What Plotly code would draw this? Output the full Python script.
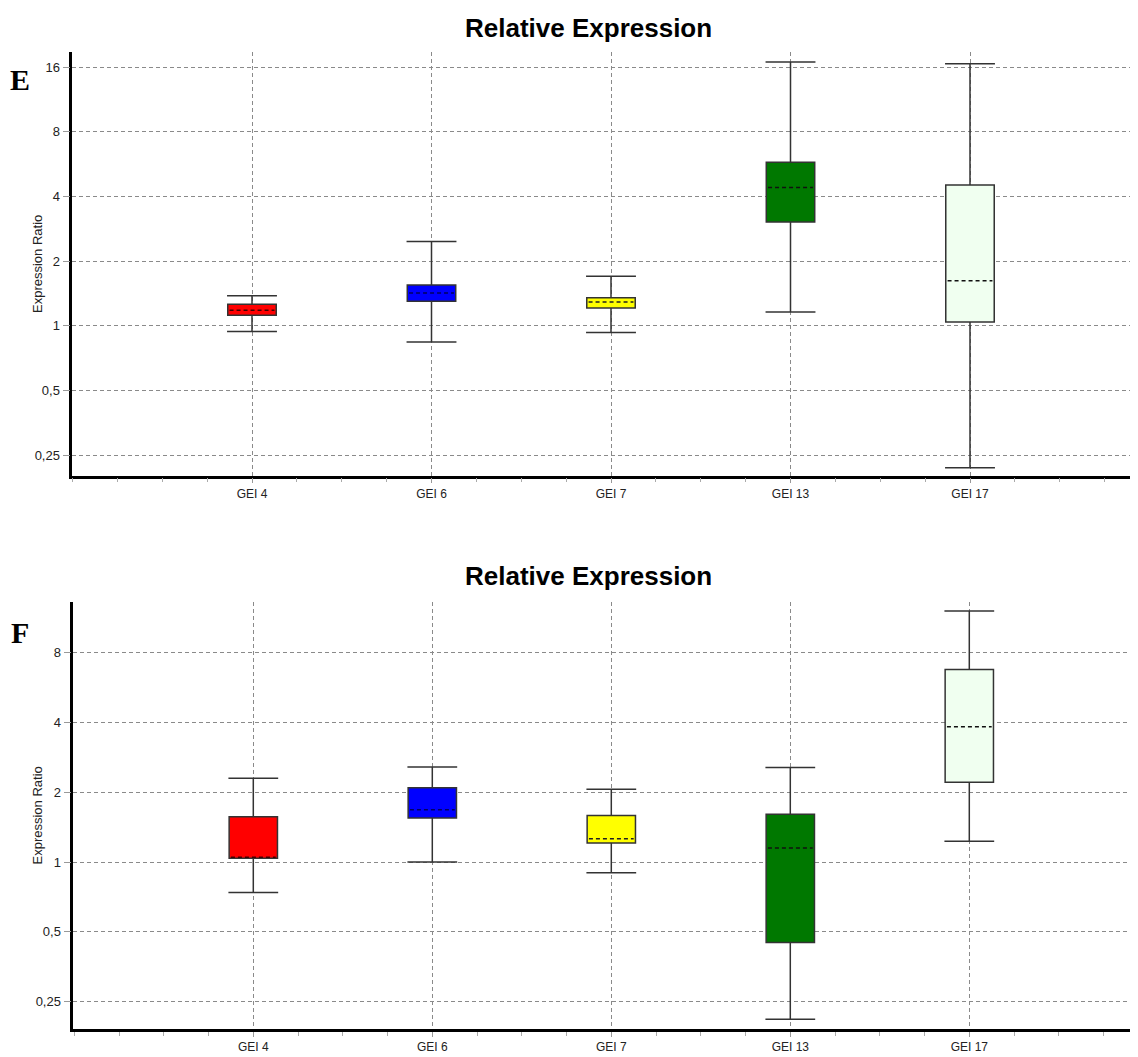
import math
import plotly.graph_objects as go

# ---------------- data ----------------
categories = ["GEI 4", "GEI 6", "GEI 7", "GEI 13", "GEI 17"]
box_colors = ["#FF0000", "#0000FF", "#FFFF00", "#007800", "#F0FFF0"]
median_colors = ["#400000", "#000060", "#202020", "#101010", "#101010"]

# Panel E
e_lower = [0.94, 0.84, 0.93, 1.16, 0.218]
e_q1 = [1.12, 1.30, 1.21, 3.04, 1.04]
e_median = [1.18, 1.42, 1.29, 4.41, 1.62]
e_q3 = [1.26, 1.55, 1.35, 5.78, 4.52]
e_upper = [1.38, 2.47, 1.70, 16.9, 16.6]

# Panel F
f_lower = [0.74, 1.00, 0.90, 0.21, 1.23]
f_q1 = [1.04, 1.55, 1.21, 0.45, 2.21]
f_median = [1.05, 1.68, 1.26, 1.15, 3.83]
f_q3 = [1.57, 2.09, 1.59, 1.61, 6.77]
f_upper = [2.30, 2.57, 2.06, 2.56, 12.1]

e_ticks = [0.25, 0.5, 1, 2, 4, 8, 16]
e_ticktext = ["0,25", "0,5", "1", "2", "4", "8", "16"]
f_ticks = [0.25, 0.5, 1, 2, 4, 8]
f_ticktext = ["0,25", "0,5", "1", "2", "4", "8"]

# ---------------- style ----------------
OFF = 8  # default page body margin
W, H = 1130, 1049  # figure size so that it ends at the window edge
BOX_W = 0.27
CAP_HALF = 0.139
EDGE = "#333333"
GRID = "#8a8a8a"
FONT = "Liberation Sans, Arial, sans-serif"

fig = go.Figure()


def add_panel(xa, ya, lower, q1, med, q3, upper):
    pos = list(range(len(categories)))
    fig.add_trace(go.Bar(
        x=pos, y=[b - a for a, b in zip(q1, q3)], base=q1, width=BOX_W,
        marker=dict(color=box_colors, line=dict(color=EDGE, width=1.5)),
        xaxis=xa, yaxis=ya, showlegend=False, hoverinfo="skip"))
    wx, wy = [], []
    for i in pos:
        wx += [i, i, None, i, i, None]
        wy += [q3[i], upper[i], None, q1[i], lower[i], None]
    for i in pos:
        wx += [i - CAP_HALF, i + CAP_HALF, None, i - CAP_HALF, i + CAP_HALF, None]
        wy += [upper[i], upper[i], None, lower[i], lower[i], None]
    fig.add_trace(go.Scatter(x=wx, y=wy, mode="lines",
                             line=dict(color=EDGE, width=1.5),
                             xaxis=xa, yaxis=ya, showlegend=False, hoverinfo="skip"))
    for i in pos:
        fig.add_trace(go.Scatter(
            x=[i - BOX_W / 2 + 0.01, i + BOX_W / 2 - 0.01], y=[med[i], med[i]],
            mode="lines", line=dict(color=median_colors[i], width=1.5, dash="4px,3px"),
            xaxis=xa, yaxis=ya, showlegend=False, hoverinfo="skip"))


add_panel("x", "y", e_lower, e_q1, e_median, e_q3, e_upper)
add_panel("x2", "y2", f_lower, f_q1, f_median, f_q3, f_upper)


def fx(p):
    return (p - OFF) / W


def fy(p):
    return 1 - (p - OFF) / H


def xaxis_cfg(left_px, cat0_px, spacing):
    right_px = 1138
    return dict(
        domain=[fx(left_px), fx(right_px)],
        range=[(left_px - cat0_px) / spacing, (right_px - cat0_px) / spacing],
        type="linear",
        tickmode="array", tickvals=list(range(len(categories))), ticktext=categories,
        showgrid=True, gridcolor=GRID, griddash="4px,3px", gridwidth=1,
        zeroline=False, showline=True, linecolor="black", linewidth=2.5,
        ticks="outside", ticklen=5, tickcolor="#999999", tickwidth=1,
        minor=dict(tick0=0, dtick=0.25, ticks="outside", ticklen=4,
                   tickcolor="#aaaaaa", showgrid=False),
        tickfont=dict(family=FONT, size=12, color="#222222"), fixedrange=True)


def yaxis_cfg(top_px, bottom_px, lo_log2, hi_log2, tv, tt, anchor):
    return dict(
        domain=[fy(bottom_px), fy(top_px)], type="log",
        range=[lo_log2 * math.log10(2), hi_log2 * math.log10(2)],
        tickmode="array", tickvals=tv, ticktext=tt,
        showgrid=True, gridcolor=GRID, griddash="4px,3px", gridwidth=1,
        zeroline=False, showline=True, linecolor="black", linewidth=2.5,
        ticks="outside", ticklen=7, tickcolor="#999999", tickwidth=1,
        tickfont=dict(family=FONT, size=13, color="#222222"),
        anchor=anchor, fixedrange=True)


fig.update_layout(
    width=W, height=H, autosize=False,
    margin=dict(l=0, r=0, t=0, b=0),
    paper_bgcolor="white", plot_bgcolor="white",
    barmode="overlay",
    xaxis=dict(**xaxis_cfg(72.3, 252.0, 179.5), anchor="y"),
    yaxis=yaxis_cfg(51.7, 475.7, -2.32, 4.24, e_ticks, e_ticktext, "x"),
    xaxis2=dict(**xaxis_cfg(73.3, 253.3, 179.0), anchor="y2"),
    yaxis2=yaxis_cfg(601.7, 1029.3, -2.395, 3.73, f_ticks, f_ticktext, "x2"),
)

annotations = [
    dict(text="<b>Relative Expression</b>", x=fx(588), y=fy(28),
         font=dict(family=FONT, size=26, color="black")),
    dict(text="<b>Relative Expression</b>", x=fx(588), y=fy(576),
         font=dict(family=FONT, size=26, color="black")),
    dict(text="<b>E</b>", x=fx(20), y=fy(80),
         font=dict(family="Liberation Serif, Times New Roman, serif", size=30, color="black")),
    dict(text="<b>F</b>", x=fx(20), y=fy(632),
         font=dict(family="Liberation Serif, Times New Roman, serif", size=30, color="black")),
    dict(text="Expression Ratio", x=fx(37), y=fy(264), textangle=-90,
         font=dict(family=FONT, size=13, color="#222222")),
    dict(text="Expression Ratio", x=fx(37), y=fy(815.5), textangle=-90,
         font=dict(family=FONT, size=13, color="#222222")),
]
for a in annotations:
    a.update(xref="paper", yref="paper", xanchor="center", yanchor="middle",
             showarrow=False)
fig.update_layout(annotations=annotations)

fig.write_html("out.html")
